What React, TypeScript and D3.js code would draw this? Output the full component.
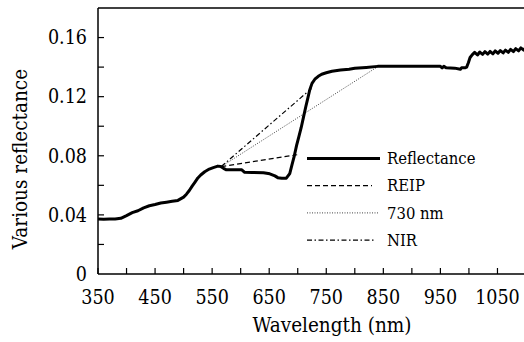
import React from "react";
import * as d3 from "d3";

const wavelengths = [350,360,370,380,390,400,410,420,430,440,450,460,470,480,490,500,505,510,515,520,525,530,537,545,552,560,565,570,575,590,602,607,620,640,651,660,665,672,680,686,690,694,698,702,706,710,714,718,721,725,730,736,742,750,760,775,790,800,820,840,880,920,950,953,956,960,975,985,987,993,996,999,1002,1006,1010,1015,1019,1024,1028,1033,1037,1042,1046,1051,1055,1060,1064,1069,1073,1078,1082,1087,1091,1096,1100];
const reflectance = [0.0372,0.0370,0.0372,0.0372,0.0377,0.0395,0.0415,0.0428,0.0448,0.0462,0.0470,0.0480,0.0486,0.0492,0.0498,0.0520,0.0540,0.0565,0.0595,0.0622,0.0650,0.0670,0.0692,0.0710,0.0720,0.0730,0.0728,0.0715,0.0705,0.0705,0.0705,0.0688,0.0687,0.0685,0.0678,0.0664,0.0652,0.0648,0.0648,0.0680,0.0740,0.0800,0.0870,0.0930,0.0990,0.1060,0.1130,0.1195,0.1245,0.1290,0.1318,0.1338,0.1352,0.1362,0.1372,0.1380,0.1385,0.1392,0.1398,0.1405,0.1405,0.1405,0.1405,0.1395,0.1405,0.1395,0.1393,0.1385,0.1395,0.1395,0.1400,0.1430,0.1465,0.1485,0.1500,0.1482,0.1502,0.1486,0.1505,0.1488,0.1506,0.1490,0.1510,0.1494,0.1512,0.1496,0.1515,0.1500,0.1520,0.1505,0.1525,0.1510,0.1530,0.1515,0.1535];

const reipLine = [[566, 0.0727], [699, 0.0807]];
const nm730Line = [[566, 0.0727], [841, 0.1405]];
const nirLine = [[566, 0.0727], [724, 0.1255]];

const xTickValues = [350,400,450,500,550,600,650,700,750,800,850,900,950,1000,1050];
const xTickLabels = ["350","450","550","650","750","850","950","1050"];
const yTickValues = [0.02,0.04,0.06,0.08,0.10,0.12,0.14,0.16];
const yTickLabels = ["0","0.04","0.08","0.12","0.16"];

const legendNames = ["Reflectance", "REIP", "730 nm", "NIR"];

export default function App() {
  const W = 524, H = 342;
  const left = 98, right = 526, top = 8, bottom = 274;
  const x = d3.scaleLinear().domain([350, 1100]).range([left, right]);
  const y = d3.scaleLinear().domain([0, 0.18]).range([bottom, top]);
  const data = wavelengths.map((w, i) => [w, reflectance[i]] as [number, number]);
  const line = d3.line<[number, number]>().x(d => x(d[0])).y(d => y(d[1]));
  const fs = { fontFamily: '"DejaVu Serif Condensed", "DejaVu Serif", serif', fontStretch: "condensed" as const };

  const styles = [
    { sw: 3, dash: undefined, color: "#000" },
    { sw: 1.2, dash: "5,3", color: "#000" },
    { sw: 1, dash: "1,1.5", color: "#444" },
    { sw: 1.2, dash: "5,2.5,1.5,2.5", color: "#000" },
  ];
  const refLines = [reipLine, nm730Line, nirLine];

  return (
    <div style={{ position: "fixed", left: 0, top: 0 }}>
      <svg width={W} height={H} style={{ display: "block", background: "#fff" }}>
        <defs>
          <clipPath id="plot">
            <rect x={left} y={top - 2} width={right - left} height={bottom - top + 2} />
          </clipPath>
        </defs>
        {refLines.map((l, i) => (
          <path key={i} d={line(l as [number, number][]) || ""} fill="none"
            stroke={styles[i + 1].color} strokeWidth={styles[i + 1].sw}
            strokeDasharray={styles[i + 1].dash} />
        ))}
        <path d={line(data) || ""} fill="none" stroke="#000" strokeWidth={3}
          strokeLinejoin="round" clipPath="url(#plot)" />
        <line x1={left} x2={W} y1={top} y2={top} stroke="#000" strokeWidth={1.5} />
        <line x1={left} x2={left} y1={top} y2={bottom} stroke="#000" strokeWidth={1.5} />
        <line x1={left} x2={W} y1={bottom} y2={bottom} stroke="#000" strokeWidth={1.5} />
        {xTickValues.map(v => (
          <line key={v} x1={x(v)} x2={x(v)} y1={bottom} y2={bottom - 6} stroke="#000" strokeWidth={1.2} />
        ))}
        {yTickValues.map(v => (
          <line key={v} x1={left} x2={left + 6} y1={y(v)} y2={y(v)} stroke="#000" strokeWidth={1.2} />
        ))}
        {xTickLabels.map(t => (
          <text key={t} x={x(+t)} y={304} textAnchor="middle" style={fs} fontSize={19.5}>{t}</text>
        ))}
        {yTickLabels.map(t => (
          <text key={t} x={87} y={y(+t)} dy="0.35em" textAnchor="end" style={fs} fontSize={19.5}>{t}</text>
        ))}
        <text x={332} y={332} textAnchor="middle" style={fs} fontSize={20.5}>Wavelength (nm)</text>
        <text transform="translate(27,159) rotate(-90)" textAnchor="middle" style={fs} fontSize={20.5}>Various reflectance</text>
        {legendNames.map((n, i) => {
          const ly = 158.5 + i * 27.2;
          const s = styles[i];
          const x2 = i === 0 ? 380 : i === 1 ? 372 : i === 2 ? 379 : 375;
          return (
            <g key={n}>
              <line x1={307} x2={x2} y1={ly} y2={ly} stroke={s.color} strokeWidth={s.sw} strokeDasharray={s.dash} />
              <text x={387} y={ly} dy="0.35em" style={fs} fontSize={16.5}>{n}</text>
            </g>
          );
        })}
      </svg>
    </div>
  );
}
